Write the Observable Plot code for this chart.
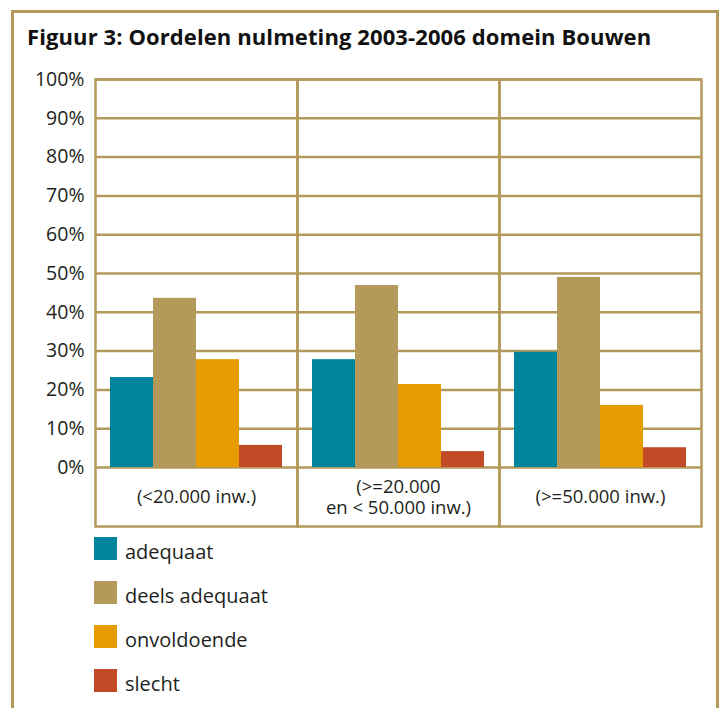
<!DOCTYPE html>
<html><head><meta charset="utf-8">
<script src="https://cdn.jsdelivr.net/npm/d3@7"></script>
<script src="https://cdn.jsdelivr.net/npm/@observablehq/plot@0.6"></script>
<style>
body{margin:0;background:#fff;font-family:"Open Sans",sans-serif;color:#231f20;width:723px;height:708px;overflow:hidden;position:relative}
#frame{position:absolute;left:11px;top:10px;width:702px;height:720px;border:3px solid #b39a5a}
#title{position:absolute;left:27px;top:23px;font-family:"Open Sans";font-weight:bold;font-size:22px;letter-spacing:0.1px;line-height:26px;white-space:nowrap;color:#111}
#chart{position:absolute;left:0;top:60px}
#legend{position:absolute;left:94px;top:537px}
.leg{display:flex;align-items:center;height:23px;margin-bottom:21px;font-size:20px}
.leg span{position:relative;top:3px}
.sw{width:23px;height:23px;margin-right:8px;flex:none}
</style></head><body>
<div id="frame"></div>
<div id="title">Figuur 3: Oordelen nulmeting 2003-2006 domein Bouwen</div>
<div id="chart"></div>
<div id="legend"></div>
<script>
const categories = ["(<20.000 inw.)", "(>=20.000\nen < 50.000 inw.)", "(>=50.000 inw.)"];
const series = ["adequaat", "deels adequaat", "onvoldoende", "slecht"];
const adequaat = [23.2, 27.8, 29.7];
const deelsAdequaat = [43.6, 46.9, 49.0];
const onvoldoende = [27.8, 21.4, 16.0];
const slecht = [5.7, 4.1, 5.1];
const colors = ["#00849e", "#b39a5a", "#e69c00", "#c24a26"];
const yTicks = [0, 10, 20, 30, 40, 50, 60, 70, 80, 90, 100];

const valuesBySeries = [adequaat, deelsAdequaat, onvoldoende, slecht];
const rows = [];
categories.forEach((c, i) => series.forEach((s, j) => rows.push({category: c, series: s, value: valuesBySeries[j][i]})));

const grid = "#b39a5a";
const chart = Plot.plot({
  width: 723,
  height: 470,
  marginTop: 19,
  marginBottom: 4,
  marginLeft: 94,
  marginRight: 21,
  style: {fontFamily: "Open Sans", fontSize: "19.5px", color: "#231f20", background: "transparent"},
  fx: {domain: categories, padding: 0, axis: null},
  x: {domain: series, paddingInner: 0, paddingOuter: 0.3, axis: null},
  y: {domain: [-15.2, 100], ticks: yTicks, tickFormat: d => d + "%", tickSize: 0, tickPadding: 11, label: null},
  color: {domain: series, range: colors},
  marks: [
    Plot.ruleY(yTicks, {stroke: grid, strokeWidth: 2.5}),
    Plot.barY(rows, {fx: "category", x: "series", y: "value", fill: "series"}),
    Plot.frame({stroke: grid, strokeWidth: 2.5}),
    Plot.text(categories, {fx: d => d, y: () => -7.5, text: d => d, fontSize: 18.5, lineHeight: 1.16})
  ]
});
document.getElementById("chart").appendChild(chart);

const legend = document.getElementById("legend");
series.forEach((s, i) => {
  const row = document.createElement("div");
  row.className = "leg";
  const sw = document.createElement("div");
  sw.className = "sw";
  sw.style.background = colors[i];
  const t = document.createElement("span");
  t.textContent = s;
  row.appendChild(sw); row.appendChild(t);
  legend.appendChild(row);
});
</script>
</body></html>
